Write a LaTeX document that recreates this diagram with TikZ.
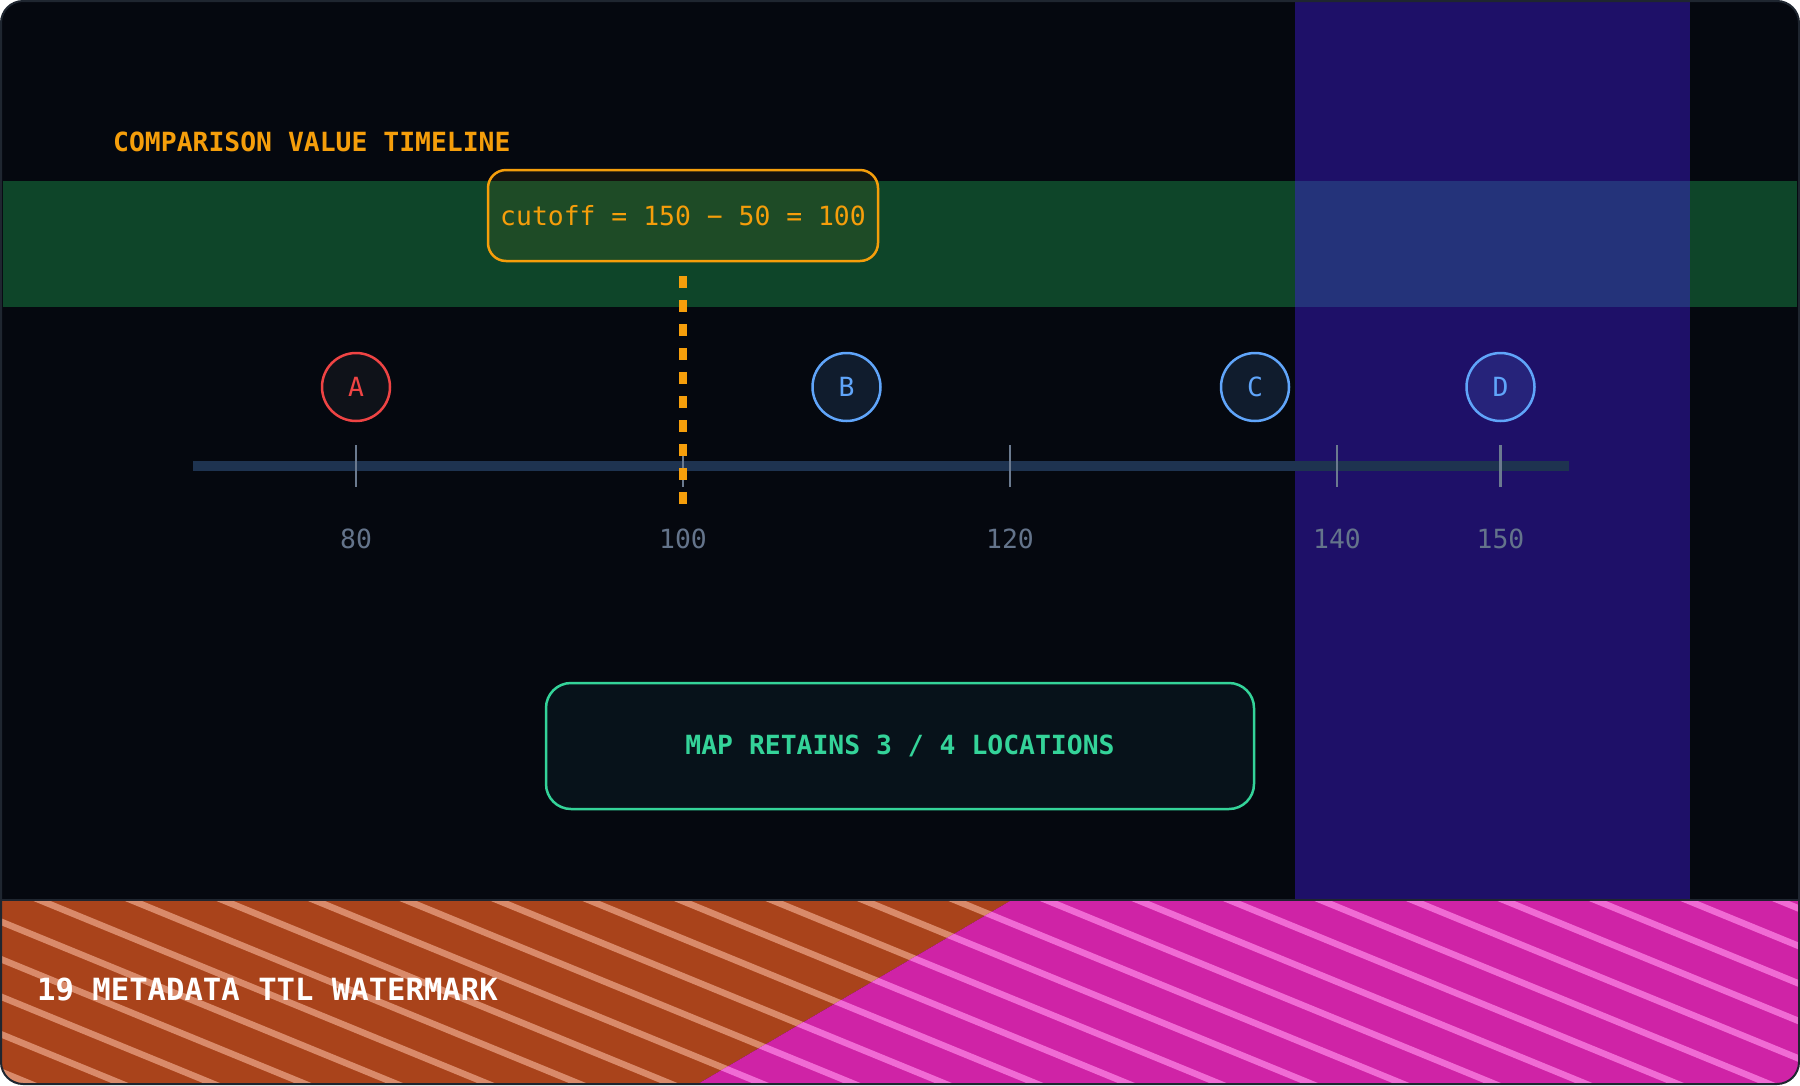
\documentclass[tikz,border=0pt]{standalone}
\usepackage{fontspec}
\setmonofont{DejaVu Sans Mono}
\usepackage{tikz}
\usetikzlibrary{positioning}
\definecolor{cardbg}{HTML}{05080F}
\definecolor{cardedge}{HTML}{1F2630}
\definecolor{bandgreen}{HTML}{0E4529}
\definecolor{bandpurple}{HTML}{1E1068}
\definecolor{bandoverlap}{HTML}{24337A}
\definecolor{cutorange}{HTML}{F59E0B}
\definecolor{axisnavy}{HTML}{1E3350}
\definecolor{tickgrey}{HTML}{6B7A8F}
\definecolor{labelgrey}{HTML}{64748B}
\definecolor{keepblue}{HTML}{60A5FA}
\definecolor{dropred}{HTML}{EF4444}
\definecolor{dropfill}{HTML}{0F1219}
\definecolor{summarygreen}{HTML}{34D399}
\definecolor{summaryfill}{HTML}{07121A}
\definecolor{wmorange}{HTML}{A9431B}
\definecolor{wmmagenta}{HTML}{CF23A6}
\definecolor{stripeorange}{HTML}{D98A6A}
\definecolor{stripemagenta}{HTML}{F06BD4}
\newcommand{\monosize}{\ttfamily\fontsize{26.4pt}{30pt}\selectfont}
\tikzset{
  titletext/.style={anchor=west,inner sep=0pt,text=cutorange,
    font=\monosize\bfseries},
  cutbox/.style={draw=cutorange,line width=2.5pt,rounded corners=18pt,
    fill=cutorange,fill opacity=0.07,text opacity=1,text=cutorange,
    minimum width=390pt,minimum height=91pt,font=\monosize},
  cutline/.style={draw=cutorange,line width=8pt,dash pattern=on 12pt off 12pt},
  axisline/.style={draw=axisnavy,line width=10pt},
  tickline/.style={draw=tickgrey,line width=2.2pt},
  ticklabel/.style={text=labelgrey,inner sep=0pt,font=\monosize},
  keepmark/.style={circle,draw=keepblue,line width=2.5pt,fill=keepblue,
    fill opacity=0.13,text opacity=1,text=keepblue,minimum size=68pt,
    inner sep=0pt,font=\monosize},
  dropmark/.style={circle,draw=dropred,line width=2.5pt,fill=dropfill,
    text=dropred,minimum size=68pt,inner sep=0pt,font=\monosize},
  summarybox/.style={draw=summarygreen,line width=2.5pt,rounded corners=25pt,
    fill=summaryfill,text=summarygreen,minimum width=708pt,
    minimum height=126pt,font=\monosize\bfseries},
  wmtext/.style={anchor=west,inner sep=0pt,text=white,
    font=\ttfamily\fontsize{30.6pt}{34pt}\selectfont\bfseries},
  stripe/.style={line width=6.5pt}
}

\begin{document}
\begin{tikzpicture}[x=1pt,y=-1pt]
  \useasboundingbox (0,0) rectangle (1800,1085);
  % card and bands
  \fill[cardbg,rounded corners=22pt] (1,1) rectangle (1799,1084);
  \fill[bandgreen] (3,181) rectangle (1797,307);
  \fill[bandpurple] (1295,2) rectangle (1690,899);
  \fill[bandoverlap] (1295,181) rectangle (1690,307);

  \node[titletext] (title) at (113,142) {COMPARISON VALUE TIMELINE};
  \node[cutbox] (cutoff) at (683,215.5) {cutoff = 150 − 50 = 100};

  % axis with ticks
  \coordinate (axisL) at (193,466);
  \coordinate (axisR) at (1569,466);
  \draw[axisline] (axisL) -- (axisR);
  \foreach \v in {80,100,120,140,150}{
    \coordinate (tt\v) at ({356+(\v-80)*16.35},445);
    \coordinate (tb\v) at ({356+(\v-80)*16.35},487);
    \draw[tickline] (tt\v) -- (tb\v);
    \node[ticklabel] (lab\v) at ({356+(\v-80)*16.35},539) {\v};
  }

  % cutoff marker
  \coordinate (cuttop) at (683,276);
  \coordinate (cutbot) at (683,504);
  \draw[cutline] (cuttop) -- (cutbot);

  \node[dropmark] (ptA) at (356,387) {A};
  \node[keepmark] (ptB) at (846.5,387) {B};
  \node[keepmark] (ptC) at (1255,387) {C};
  \node[keepmark] (ptD) at (1500.5,387) {D};

  \node[summarybox] (summary) at (900,746) {MAP RETAINS 3 / 4 LOCATIONS};

  % watermark strip
  \begin{scope}
    \clip[rounded corners=22pt] (1,1) rectangle (1799,1084);
    \clip (0,901) rectangle (1800,1085);
    \begin{scope}
      \clip (0,901) -- (1010,901) -- (696,1085) -- (0,1085) -- cycle;
      \fill[wmorange] (0,901) rectangle (1800,1085);
      \foreach \k in {-6,...,21}
        \draw[stripe,stripeorange] ({-8+91.5*\k},880.5) -- ++(560,229.6);
    \end{scope}
    \begin{scope}
      \clip (1010,901) -- (1800,901) -- (1800,1085) -- (696,1085) -- cycle;
      \fill[wmmagenta] (0,901) rectangle (1800,1085);
      \foreach \k in {-6,...,21}
        \draw[stripe,stripemagenta] ({-8+91.5*\k},880.5) -- ++(560,229.6);
    \end{scope}
  \end{scope}
  \draw[cardedge,line width=2pt] (1,900) -- (1799,900);
  \node[wmtext] (watermark) at (37,990) {19 METADATA TTL WATERMARK};

  \draw[cardedge,line width=2pt,rounded corners=22pt] (1,1) rectangle (1799,1084);
\end{tikzpicture}
\end{document}
